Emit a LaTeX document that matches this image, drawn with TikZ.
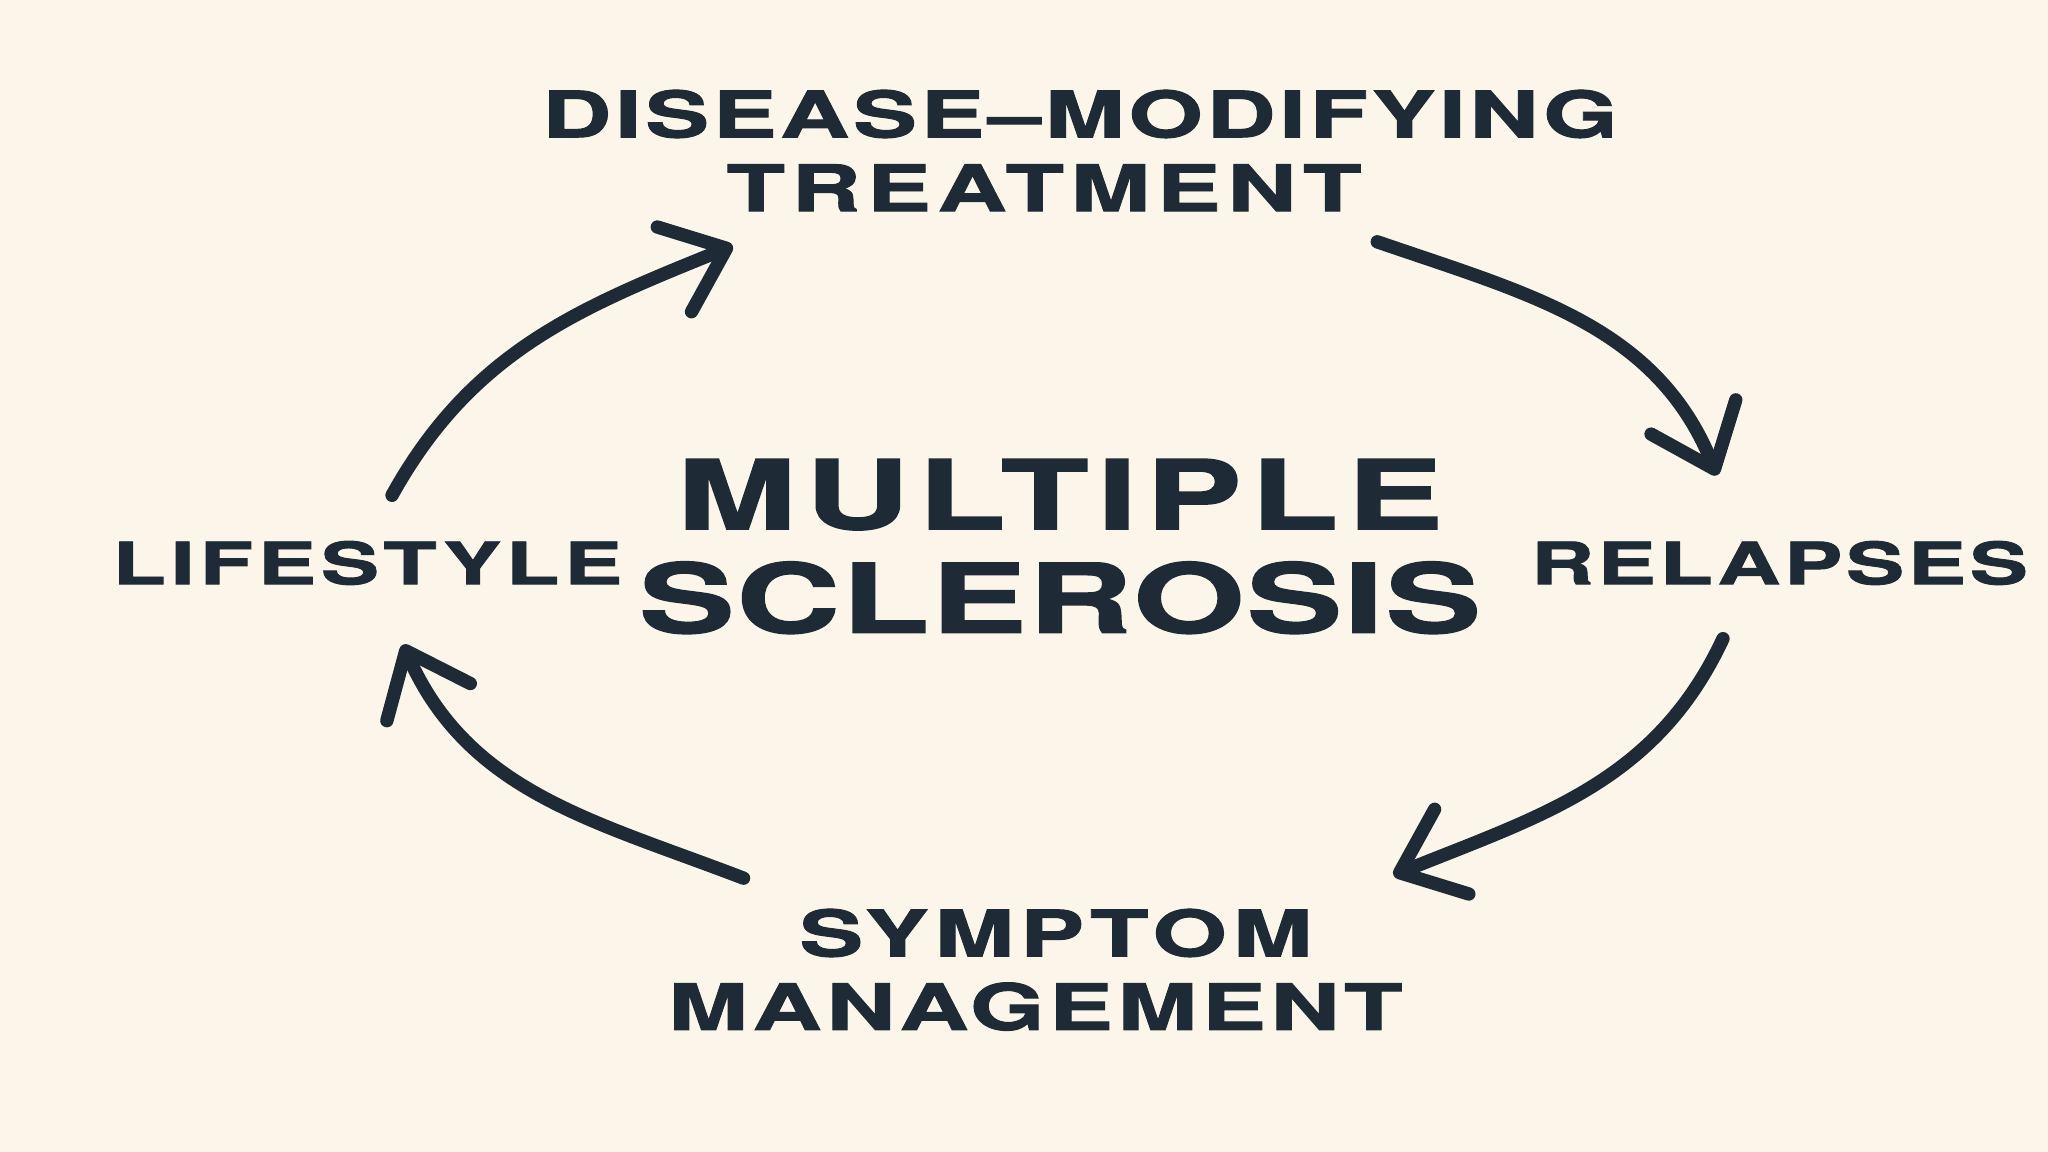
\documentclass[tikz,border=0pt]{standalone}
\usepackage{fontspec}
\setmainfont{TeX Gyre Heros}
\newfontfamily\lblfont{TeX Gyre Heros}[FakeStretch=1.5, FakeBold=1.5]
\usetikzlibrary{arrows.meta, positioning, calc}

\definecolor{inkblue}{RGB}{30,43,54}
\definecolor{cream}{RGB}{251,246,233}

% label font: size and letter spacing
\newcommand{\lblset}[2]{\lblfont\bfseries\addfontfeatures{LetterSpace=#2}\fontsize{#1}{#1}\selectfont}

\tikzset{
  stage/.style={text=inkblue, inner sep=0pt},
  cycarrow/.style={draw=inkblue, line width=3.8pt, line cap=round,
    -{Straight Barb[length=16pt, width=26pt, round]}},
}

\begin{document}
\begin{tikzpicture}
\useasboundingbox (0,0) rectangle (20.48,11.52);
\fill[cream] (0,0) rectangle (20.48,11.52);

% centre
\node[stage, align=center, font=\lblset{27.3}{4}\fontsize{27.3}{29.5}\selectfont] (ms) at (10.60,6.055)
  {{\addfontfeatures{LetterSpace=9}MULTIPLE}\\{\addfontfeatures{LetterSpace=1.5}SCLEROSIS}};

% stages round the cycle
\node[stage, font=\lblset{18.2}{5.5}] (dmt) at (10.80,10.38) {DISEASE–MODIFYING};
\node[stage, font=\lblset{18.2}{10}, below=0.25cm of dmt, xshift=-0.36cm] (treat) {TREATMENT};
\node[stage, font=\lblset{16.6}{6}] (relap) at (17.795,5.89) {RELAPSES};
\node[stage, font=\lblset{18.2}{9}] (sym) at (10.56,2.19) {SYMPTOM};
\node[stage, font=\lblset{18.2}{7}, below=0.24cm of sym, xshift=-0.205cm] (mgmt) {MANAGEMENT};
\node[stage, font=\lblset{16.6}{8}] (life) at (3.675,5.89) {LIFESTYLE};

% arrows
\draw[cycarrow] ([shift={(0.245,0.45)}]life.north) to[out=61, in=202] ([shift={(0.07,-0.34)}]treat.south west);
\draw[cycarrow] ([shift={(0.15,-0.30)}]treat.south east) to[out=-19, in=112] ([shift={(-0.625,0.65)}]relap.north);
\draw[cycarrow] ([shift={(-0.565,-0.53)}]relap.south) to[out=-115, in=22] ([shift={(0.80,0.33)}]sym.north east);
\draw[cycarrow] ([shift={(-0.55,0.30)}]sym.north west) to[out=159, in=-66] ([shift={(0.355,-0.59)}]life.south);
\end{tikzpicture}
\end{document}
